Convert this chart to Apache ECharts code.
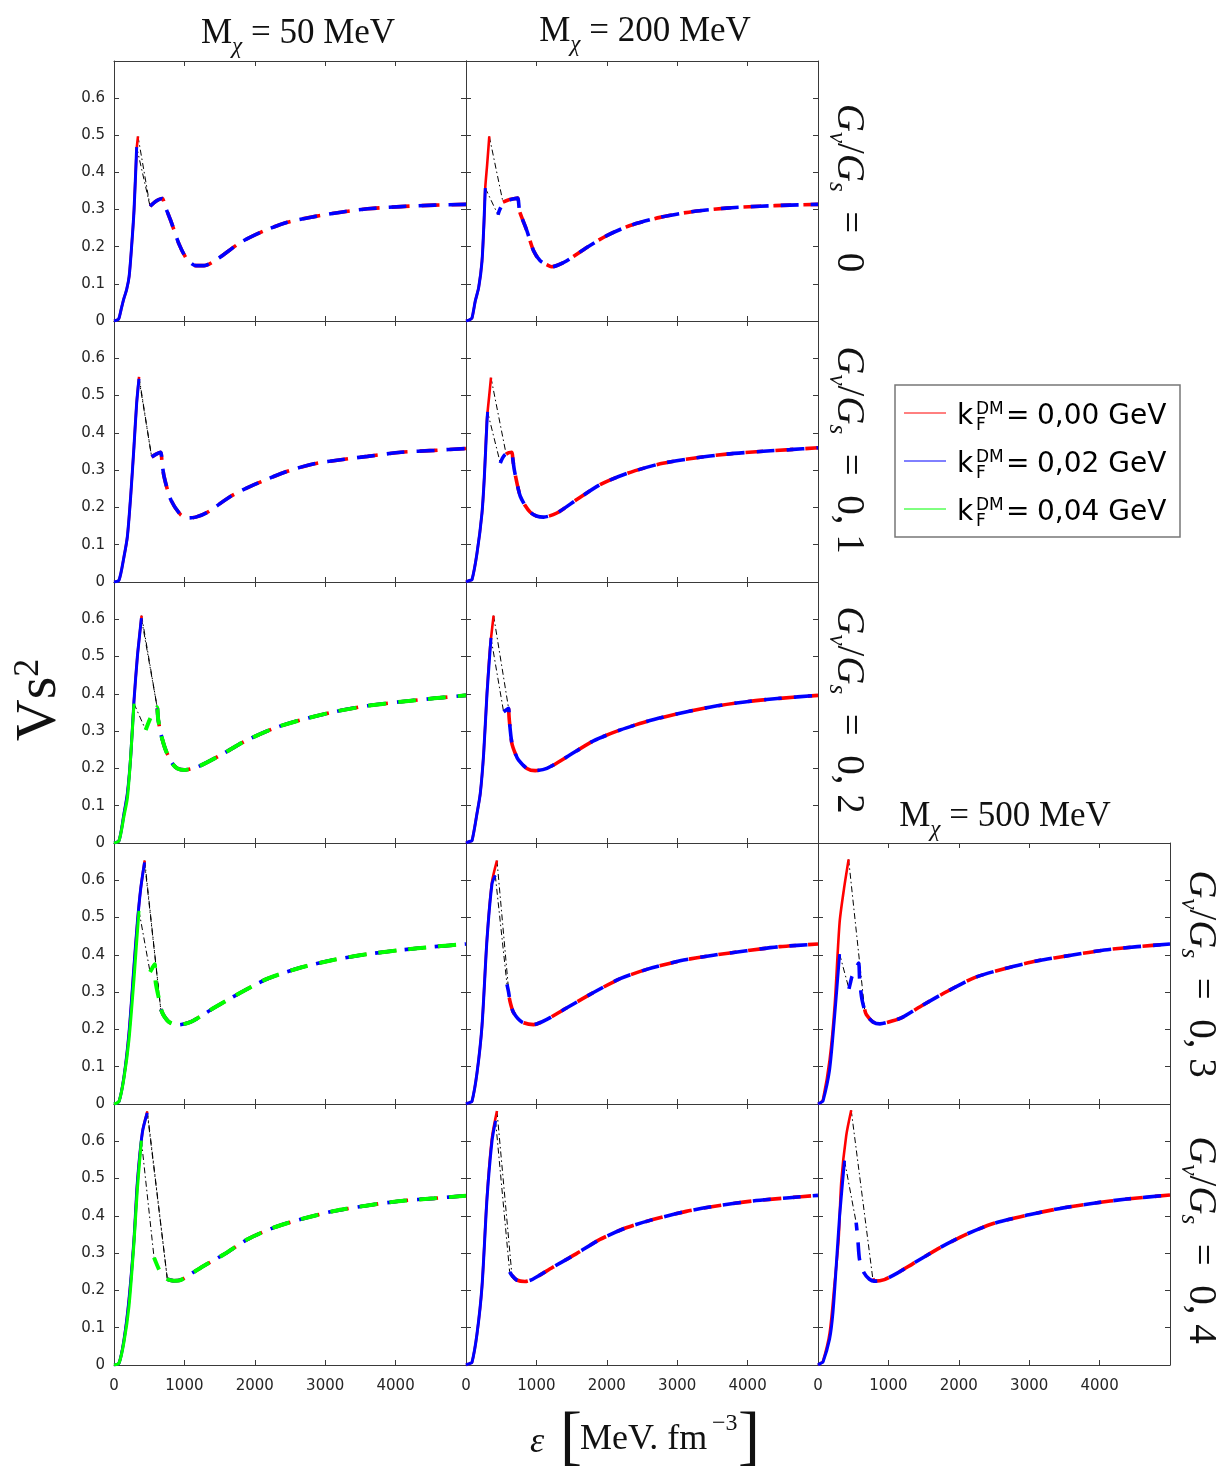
<!DOCTYPE html>
<html><head><meta charset="utf-8">
<script src="https://cdn.jsdelivr.net/npm/echarts@6/dist/echarts.min.js"></script>
<style>html,body{margin:0;padding:0;background:#fff}#c{width:1222px;height:1470px}</style>
</head><body><div id="c"></div>
<script>
// ---------------- DATA (epsilon [MeV fm^-3], Vs^2) ----------------
// Row 1: Gv/Gs = 0
const r1c1_red_solid  = [[0,0],[60,0.004],[75,0.01],[100,0.03],[140,0.06],[180,0.085],[215,0.12],[250,0.2],[285,0.3],[322,0.462],[341,0.497]];
const r1c1_blue_solid = [[0,0],[60,0.004],[75,0.01],[100,0.03],[140,0.06],[180,0.085],[215,0.12],[250,0.2],[285,0.3],[322,0.468]];
const r1c1_dashed     = [[512,0.309],[600,0.323],[687,0.33],[720,0.312],[806,0.27],[924,0.207],[1019,0.171],[1100,0.155],[1161,0.149],[1280,0.149],[1469,0.167],[1801,0.212],[2133,0.243],[2464,0.266],[2844,0.281],[3223,0.293],[3602,0.302],[4076,0.308],[4550,0.312],[5000,0.314]];

const r1c2_red_solid   = [[0,0],[50,0.003],[85,0.008],[132,0.054],[180,0.09],[227,0.162],[255,0.26],[274,0.36],[300,0.42],[331,0.497]];
const r1c2_blue_solid  = [[0,0],[50,0.003],[85,0.008],[132,0.054],[180,0.09],[227,0.16],[255,0.265],[274,0.358]];
const r1c2_blue_dashed = [[454,0.286],[480,0.3],[525,0.315],[600,0.325],[680,0.329],[733,0.331],[760,0.296],[800,0.275],[865,0.243],[960,0.189],[1054,0.162],[1173,0.149],[1220,0.146],[1300,0.15],[1433,0.162],[1716,0.198],[2000,0.23],[2331,0.257],[2756,0.279],[3229,0.295],[3702,0.304],[4175,0.309],[4600,0.312],[5000,0.314]];
const r1c2_red_dashed  = [[525,0.32],[600,0.326],[680,0.329],[733,0.331],[760,0.296],[800,0.275],[865,0.243],[960,0.189],[1054,0.162],[1173,0.149],[1220,0.146],[1300,0.15],[1433,0.162],[1716,0.198],[2000,0.23],[2331,0.257],[2756,0.279],[3229,0.295],[3702,0.304],[4175,0.309],[4600,0.312],[5000,0.314]];

// Row 2: Gv/Gs = 0,1
const r2c1_red_solid  = [[0,0],[71,0.005],[142,0.068],[190,0.122],[237,0.23],[284,0.364],[322,0.48],[356,0.55]];
const r2c1_blue_solid = [[0,0],[71,0.005],[142,0.068],[190,0.122],[237,0.23],[284,0.364],[322,0.48],[355,0.545]];
const r2c1_dashed     = [[535,0.335],[600,0.343],[664,0.348],[680,0.325],[711,0.283],[806,0.221],[948,0.18],[1050,0.172],[1161,0.174],[1327,0.187],[1659,0.23],[1991,0.261],[2464,0.297],[2844,0.317],[3223,0.328],[3602,0.337],[4076,0.348],[4550,0.353],[5000,0.358]];

const r2c2_red_solid   = [[0,0],[50,0.004],[85,0.006],[156,0.077],[227,0.185],[260,0.28],[298,0.436],[330,0.5],[355,0.548]];
const r2c2_blue_solid  = [[0,0],[50,0.004],[85,0.006],[156,0.077],[227,0.185],[260,0.28],[298,0.43],[307,0.456]];
const r2c2_blue_dashed = [[487,0.319],[520,0.333],[558,0.342],[610,0.347],[652,0.348],[665,0.33],[686,0.301],[730,0.26],[771,0.23],[840,0.205],[913,0.187],[1000,0.177],[1102,0.174],[1291,0.185],[1574,0.221],[1905,0.261],[2284,0.291],[2757,0.317],[3229,0.332],[3702,0.343],[4175,0.35],[4600,0.355],[5000,0.36]];
const r2c2_red_dashed  = [[570,0.343],[610,0.347],[652,0.348],[665,0.33],[686,0.301],[730,0.26],[771,0.23],[840,0.205],[913,0.187],[1000,0.177],[1102,0.174],[1291,0.185],[1574,0.221],[1905,0.261],[2284,0.291],[2757,0.317],[3229,0.332],[3702,0.343],[4175,0.35],[4600,0.355],[5000,0.36]];

// Row 3: Gv/Gs = 0,2
const r3c1_red_solid    = [[0,0],[71,0.006],[142,0.079],[190,0.133],[237,0.231],[284,0.382],[332,0.5],[365,0.56],[392,0.61]];
const r3c1_blue_solid   = [[0,0],[71,0.006],[142,0.079],[190,0.133],[237,0.231],[284,0.382],[332,0.5],[365,0.56],[389,0.603]];
const r3c1_dashed       = [[616,0.361],[626,0.334],[664,0.294],[735,0.249],[829,0.213],[900,0.2],[995,0.196],[1185,0.204],[1517,0.236],[1848,0.272],[2275,0.308],[2654,0.33],[3128,0.352],[3602,0.368],[4076,0.379],[4550,0.388],[5000,0.396]];
const r3c1_green_solid  = [[0,0],[71,0.006],[142,0.072],[190,0.12],[227,0.204],[261,0.303],[284,0.374]];
const r3c1_green_dashed = [[450,0.303],[480,0.318],[512,0.333],[560,0.35],[610,0.364],[626,0.334],[664,0.294],[735,0.249],[829,0.213],[900,0.2],[995,0.196],[1185,0.204],[1517,0.236],[1848,0.272],[2275,0.308],[2654,0.33],[3128,0.352],[3602,0.368],[4076,0.379],[4550,0.388],[5000,0.396]];

const r3c2_red_solid   = [[0,0],[50,0.004],[85,0.006],[156,0.079],[203,0.133],[251,0.24],[298,0.402],[340,0.52],[392,0.61]];
const r3c2_blue_solid  = [[0,0],[50,0.004],[85,0.006],[156,0.079],[203,0.133],[251,0.24],[298,0.4],[355,0.55]];
const r3c2_blue_dashed = [[534,0.352],[570,0.357],[605,0.361],[615,0.33],[652,0.267],[700,0.24],[747,0.222],[865,0.2],[983,0.194],[1149,0.2],[1433,0.231],[1811,0.274],[2189,0.303],[2567,0.326],[3040,0.348],[3513,0.366],[3986,0.379],[4459,0.388],[5000,0.396]];
const r3c2_red_dashed  = [[605,0.361],[615,0.33],[652,0.267],[700,0.24],[747,0.222],[865,0.2],[983,0.194],[1149,0.2],[1433,0.231],[1811,0.274],[2189,0.303],[2567,0.326],[3040,0.348],[3513,0.366],[3986,0.379],[4459,0.388],[5000,0.396]];

// Row 4: Gv/Gs = 0,3
const r4c1_red_solid    = [[0,0],[71,0.007],[142,0.074],[213,0.191],[284,0.37],[332,0.487],[379,0.577],[436,0.653]];
const r4c1_blue_solid   = [[0,0],[71,0.007],[142,0.074],[213,0.191],[284,0.37],[332,0.487],[379,0.577],[434,0.648]];
const r4c1_dashed       = [[664,0.254],[711,0.236],[782,0.22],[900,0.212],[1090,0.22],[1422,0.258],[1801,0.299],[2180,0.336],[2654,0.366],[3128,0.387],[3602,0.402],[4076,0.413],[4550,0.422],[5000,0.429]];
const r4c1_green_solid  = [[0,0],[71,0.007],[142,0.07],[213,0.173],[284,0.335],[320,0.43],[355,0.518]];
const r4c1_green_dashed = [[512,0.354],[545,0.365],[578,0.375],[592,0.326],[640,0.281],[678,0.249],[711,0.236],[782,0.22],[900,0.212],[1090,0.22],[1422,0.258],[1801,0.299],[2180,0.336],[2654,0.366],[3128,0.387],[3602,0.402],[4076,0.413],[4550,0.422],[5000,0.429]];

const r4c2_red_solid   = [[0,0],[50,0.004],[85,0.007],[156,0.083],[227,0.209],[298,0.442],[369,0.595],[440,0.653]];
const r4c2_blue_solid  = [[0,0],[50,0.004],[85,0.007],[156,0.083],[227,0.209],[298,0.44],[369,0.59],[416,0.613]];
const r4c2_blue_dashed = [[582,0.321],[605,0.3],[629,0.272],[676,0.245],[794,0.22],[960,0.213],[1149,0.227],[1433,0.258],[1811,0.299],[2189,0.336],[2567,0.361],[3040,0.384],[3513,0.399],[3986,0.411],[4459,0.422],[5000,0.429]];
const r4c2_red_dashed  = [[615,0.285],[629,0.272],[676,0.245],[794,0.22],[960,0.213],[1149,0.227],[1433,0.258],[1811,0.299],[2189,0.336],[2567,0.361],[3040,0.384],[3513,0.399],[3986,0.411],[4459,0.422],[5000,0.429]];

const r4c3_red_solid   = [[0,0],[40,0.004],[71,0.012],[165,0.119],[236,0.263],[307,0.487],[369,0.577],[435,0.656]];
const r4c3_blue_solid  = [[0,0],[40,0.004],[71,0.008],[165,0.092],[236,0.236],[307,0.402]];
const r4c3_blue_dashed = [[440,0.309],[460,0.325],[483,0.342],[530,0.36],[577,0.378],[591,0.335],[624,0.281],[686,0.24],[781,0.22],[880,0.215],[970,0.218],[1183,0.231],[1467,0.263],[1845,0.303],[2224,0.339],[2648,0.363],[3120,0.384],[3593,0.399],[4066,0.413],[4538,0.422],[5000,0.429]];
const r4c3_red_dashed  = [[662,0.254],[686,0.24],[781,0.22],[880,0.215],[970,0.218],[1183,0.231],[1467,0.263],[1845,0.303],[2224,0.339],[2648,0.363],[3120,0.384],[3593,0.399],[4066,0.413],[4538,0.422],[5000,0.429]];

// Row 5: Gv/Gs = 0,4
const r5c1_red_solid    = [[0,0],[71,0.005],[142,0.068],[213,0.176],[284,0.337],[332,0.49],[403,0.624],[474,0.68]];
const r5c1_blue_solid   = [[0,0],[71,0.005],[142,0.068],[213,0.176],[284,0.337],[332,0.49],[403,0.624],[472,0.676]];
const r5c1_dashed       = [[758,0.23],[850,0.226],[948,0.228],[1232,0.261],[1564,0.297],[1896,0.337],[2275,0.369],[2654,0.391],[3128,0.413],[3602,0.428],[4076,0.44],[4550,0.447],[5000,0.454]];
const r5c1_green_solid  = [[0,0],[71,0.005],[142,0.062],[213,0.157],[284,0.328],[332,0.472],[389,0.602]];
const r5c1_green_dashed = [[569,0.288],[640,0.256],[700,0.238],[758,0.23],[850,0.226],[948,0.228],[1232,0.261],[1564,0.297],[1896,0.337],[2275,0.369],[2654,0.391],[3128,0.413],[3602,0.428],[4076,0.44],[4550,0.447],[5000,0.454]];

const r5c2_red_solid   = [[0,0],[50,0.004],[85,0.007],[156,0.083],[227,0.21],[298,0.45],[369,0.61],[440,0.681]];
const r5c2_blue_solid  = [[0,0],[50,0.004],[85,0.007],[156,0.083],[227,0.21],[298,0.445],[369,0.6],[420,0.655]];
const r5c2_blue_dashed = [[620,0.25],[653,0.24],[720,0.228],[838,0.224],[948,0.23],[1232,0.262],[1564,0.298],[1896,0.336],[2275,0.368],[2654,0.39],[3128,0.412],[3602,0.428],[4076,0.44],[4550,0.448],[5000,0.455]];
const r5c2_red_dashed  = [[653,0.24],[720,0.228],[838,0.224],[948,0.23],[1232,0.262],[1564,0.298],[1896,0.336],[2275,0.368],[2654,0.39],[3128,0.412],[3602,0.428],[4076,0.44],[4550,0.448],[5000,0.455]];

const r5c3_red_solid   = [[0,0],[40,0.005],[71,0.01],[165,0.086],[236,0.22],[293,0.337],[330,0.49],[401,0.615],[472,0.683]];
const r5c3_blue_solid  = [[0,0],[40,0.005],[71,0.008],[165,0.07],[212,0.14],[259,0.265],[307,0.4],[377,0.548]];
const r5c3_blue_dashed = [[542,0.382],[566,0.337],[590,0.283],[651,0.248],[731,0.23],[802,0.225],[943,0.229],[1132,0.247],[1368,0.274],[1746,0.316],[2123,0.352],[2500,0.38],[2972,0.402],[3443,0.42],[3915,0.434],[4387,0.445],[5000,0.456]];
const r5c3_red_dashed  = [[778,0.232],[802,0.225],[943,0.229],[1132,0.247],[1368,0.274],[1746,0.316],[2123,0.352],[2500,0.38],[2972,0.402],[3443,0.42],[3915,0.434],[4387,0.445],[5000,0.456]];

// Text
const massTitles   = ['50', '200', '500'];
const ratioLabels  = ['0', '0, 1', '0, 2', '0, 3', '0, 4'];
const legendValues = ['0,00', '0,02', '0,04'];

// ---------------- PANELS ----------------
const panels = [
  {r:0,c:0,off:3, curves:[['red',r1c1_red_solid,r1c1_dashed],['blue',r1c1_blue_solid,r1c1_dashed]]},
  {r:0,c:1,off:10,curves:[['red',r1c2_red_solid,r1c2_red_dashed],['blue',r1c2_blue_solid,r1c2_blue_dashed]]},
  {r:1,c:0,off:3, curves:[['red',r2c1_red_solid,r2c1_dashed],['blue',r2c1_blue_solid,r2c1_dashed]]},
  {r:1,c:1,off:8, curves:[['red',r2c2_red_solid,r2c2_red_dashed],['blue',r2c2_blue_solid,r2c2_blue_dashed]]},
  {r:2,c:0,off:3, curves:[['red',r3c1_red_solid,r3c1_dashed],['blue',r3c1_blue_solid,r3c1_dashed],['green',r3c1_green_solid,r3c1_green_dashed]]},
  {r:2,c:1,off:8, curves:[['red',r3c2_red_solid,r3c2_red_dashed],['blue',r3c2_blue_solid,r3c2_blue_dashed]]},
  {r:3,c:0,off:3, curves:[['red',r4c1_red_solid,r4c1_dashed],['blue',r4c1_blue_solid,r4c1_dashed],['green',r4c1_green_solid,r4c1_green_dashed]]},
  {r:3,c:1,off:5, curves:[['red',r4c2_red_solid,r4c2_red_dashed],['blue',r4c2_blue_solid,r4c2_blue_dashed]]},
  {r:3,c:2,off:5, curves:[['red',r4c3_red_solid,r4c3_red_dashed],['blue',r4c3_blue_solid,r4c3_blue_dashed]]},
  {r:4,c:0,off:3, curves:[['red',r5c1_red_solid,r5c1_dashed],['blue',r5c1_blue_solid,r5c1_dashed],['green',r5c1_green_solid,r5c1_green_dashed]]},
  {r:4,c:1,off:6, curves:[['red',r5c2_red_solid,r5c2_red_dashed],['blue',r5c2_blue_solid,r5c2_blue_dashed]]},
  {r:4,c:2,off:10,curves:[['red',r5c3_red_solid,r5c3_red_dashed],['blue',r5c3_blue_solid,r5c3_blue_dashed]]}
];

const COL = {red:'#ff0000', blue:'#0000ff', green:'#00ff00'};
const SOLID_W = {red:2.6, blue:3, green:3};
const DASH_W  = {red:3.6, blue:3.6, green:4};
const DASH = [18,12];
const Z = {red:3, blue:4, green:5};
const tops=[61,321,582,843,1104], bots=[321,582,843,1104,1365], lefts=[114,466,818], W=352;
const AX = '#3a3a3a';
const grids=[], xAxes=[], yAxes=[], series=[];

panels.forEach((p,gi)=>{
  grids.push({left:lefts[p.c], top:tops[p.r], width:W, height:bots[p.r]-tops[p.r], show:false});
  const axLine={show:true,onZero:false,lineStyle:{color:AX,width:1}};
  const tick={show:true,inside:true,length:5,lineStyle:{color:AX,width:1}};
  const lab = {color:'#262626',fontSize:15,fontFamily:'DejaVu Sans',showMaxLabel:false};
  xAxes.push({gridIndex:gi,type:'value',min:0,max:5000,interval:1000,position:'bottom',axisLine:axLine,axisTick:tick,splitLine:{show:false},axisLabel:Object.assign({show:p.r===4,margin:14,formatter:(v)=>String(v)},lab)});
  xAxes.push({gridIndex:gi,type:'value',min:0,max:5000,interval:1000,position:'top',axisLine:axLine,axisTick:tick,splitLine:{show:false},axisLabel:{show:false}});
  yAxes.push({gridIndex:gi,type:'value',min:0,max:0.7,interval:0.1,position:'left',axisLine:axLine,axisTick:tick,splitLine:{show:false},axisLabel:Object.assign({show:p.c===0,margin:9,formatter:(v)=>String(Math.round(v*10)/10)},lab)});
  yAxes.push({gridIndex:gi,type:'value',min:0,max:0.7,interval:0.1,position:'right',axisLine:axLine,axisTick:tick,splitLine:{show:false},axisLabel:{show:false}});
  const base = {type:'line',xAxisIndex:gi*2,yAxisIndex:gi*2,showSymbol:false,symbol:'none',silent:true,animation:false};
  // dash-dot transition lines
  p.curves.forEach(([col,solid,dashed])=>{
    series.push(Object.assign({},base,{z:2,data:[solid[solid.length-1],dashed[0]],lineStyle:{color:'#000',width:1,type:[6,3,1.5,3]}}));
  });
  p.curves.forEach(([col,solid,dashed])=>{
    series.push(Object.assign({},base,{z:Z[col],smooth:0.25,data:solid,lineStyle:{color:COL[col],width:SOLID_W[col],type:'solid'}}));
    const off = col==='red'?0:(col==='blue'?p.off:p.off+2);
    series.push(Object.assign({},base,{z:Z[col],smooth:0.25,data:dashed,lineStyle:{color:COL[col],width:DASH_W[col],type:DASH,dashOffset:off}}));
  });
});

// ---------------- GRAPHICS (titles, labels, legend) ----------------
const SERIF='Liberation Serif', TXT='#111';
const graphics=[];
function massTitle(cx,cy,num){
  return {type:'text',x:cx,y:cy,style:{text:'{m|M}{s|χ}{m| = '+num+' MeV}',align:'center',verticalAlign:'middle',textAlign:'center',textVerticalAlign:'middle',fill:TXT,
    rich:{m:{fontFamily:SERIF,fontSize:35,lineHeight:40,verticalAlign:'top',fill:TXT},
          s:{fontFamily:SERIF,fontStyle:'italic',fontSize:23,lineHeight:22,padding:[19,0,0,0],verticalAlign:'top',fill:TXT}}}};
}
graphics.push(massTitle(298,36,massTitles[0]));
graphics.push(massTitle(645,34,massTitles[1]));
graphics.push(massTitle(1005,819,massTitles[2]));

function ratioLabel(cx,cy,val){
  return {type:'text',x:cx,y:cy,rotation:-Math.PI/2,style:{text:'{g|G}{s|v}{n|/}{g|G}{s|s}{n|\u2002=\u2002'+val+'}',align:'center',verticalAlign:'middle',textAlign:'center',textVerticalAlign:'middle',fill:TXT,
    rich:{g:{fontFamily:SERIF,fontStyle:'italic',fontSize:39,lineHeight:42,verticalAlign:'top',fill:TXT},
          n:{fontFamily:SERIF,fontSize:39,lineHeight:42,verticalAlign:'top',fill:TXT},
          s:{fontFamily:SERIF,fontStyle:'italic',fontSize:25,lineHeight:25,padding:[19,0,0,0],verticalAlign:'top',fill:TXT}}}};
}
graphics.push(ratioLabel(847,188,ratioLabels[0]));
graphics.push(ratioLabel(847,450,ratioLabels[1]));
graphics.push(ratioLabel(847,710,ratioLabels[2]));
graphics.push(ratioLabel(1199,974,ratioLabels[3]));
graphics.push(ratioLabel(1199,1240,ratioLabels[4]));

// y-axis title
graphics.push({type:'text',x:42,y:700,rotation:Math.PI/2,style:{text:'{v|Vs}{p|2}',align:'center',verticalAlign:'middle',textAlign:'center',textVerticalAlign:'middle',fill:TXT,
  rich:{v:{fontFamily:SERIF,fontSize:58,lineHeight:62,verticalAlign:'top',fill:TXT},
        p:{fontFamily:SERIF,fontSize:36,lineHeight:36,padding:[0,0,0,0],verticalAlign:'top',fill:TXT}}}});
// x-axis title
graphics.push({type:'text',x:537,y:1443,style:{text:'ε',font:'italic 36px "Liberation Serif"',fill:TXT,align:'center',verticalAlign:'middle',textAlign:'center',textVerticalAlign:'middle'}});
graphics.push({type:'text',x:571,y:1440,style:{text:'[',font:'66px "Liberation Serif"',fill:TXT,align:'center',verticalAlign:'middle',textAlign:'center',textVerticalAlign:'middle'}});
graphics.push({type:'text',x:580,y:1440,style:{text:'MeV. fm',font:'36px "Liberation Serif"',fill:TXT,align:'left',verticalAlign:'middle',textAlign:'left',textVerticalAlign:'middle'}});
graphics.push({type:'text',x:712,y:1424,style:{text:'−3',font:'24px "Liberation Serif"',fill:TXT,align:'left',verticalAlign:'middle',textAlign:'left',textVerticalAlign:'middle'}});
graphics.push({type:'text',x:749,y:1440,style:{text:']',font:'66px "Liberation Serif"',fill:TXT,align:'center',verticalAlign:'middle',textAlign:'center',textVerticalAlign:'middle'}});

// legend
graphics.push({type:'rect',shape:{x:895,y:385,width:285,height:152},style:{fill:'#fff',stroke:'#777',lineWidth:1.5},z:10});
['red','blue','green'].forEach((c,i)=>{
  const yc = 417 + i*48;
  graphics.push({type:'line',shape:{x1:904,y1:yc-4,x2:946,y2:yc-4},style:{stroke:COL[c],lineWidth:1},z:11});
  const t = (txt,x,y,size)=>({type:'text',x:x,y:y,z:11,style:{text:txt,font:size+'px "DejaVu Sans"',fill:'#000',align:'left',verticalAlign:'middle',textAlign:'left',textVerticalAlign:'middle'}});
  graphics.push(t('k',957,yc,28));
  graphics.push(t('DM',976,yc-7,17));
  graphics.push(t('F',976,yc+9,17));
  graphics.push(t('=',1006,yc,28));
  graphics.push(t(legendValues[i]+' GeV',1037,yc,28));
});

const chart = echarts.init(document.getElementById('c'), null, {renderer:'canvas'});
chart.setOption({animation:false, backgroundColor:'#fff', grid:grids, xAxis:xAxes, yAxis:yAxes, series:series, graphic:{elements:graphics}});
</script></body></html>
